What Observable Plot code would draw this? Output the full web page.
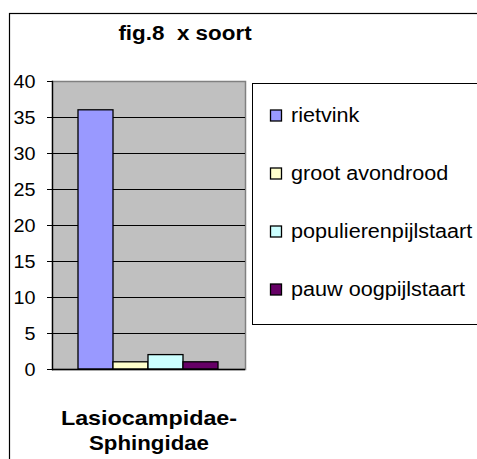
<!DOCTYPE html>
<html><head><meta charset="utf-8">
<script src="https://cdn.jsdelivr.net/npm/d3@7"></script>
<script src="https://cdn.jsdelivr.net/npm/@observablehq/plot@0.6"></script>
<style>body{margin:0;background:#fff} svg{display:block}</style>
</head><body><div id="chart"></div>
<script>
const title = "fig.8  x soort";
const category = "Lasiocampidae-\nSphingidae";
const series = ["rietvink", "groot avondrood", "populierenpijlstaart", "pauw oogpijlstaart"];
const values = [36, 1, 2, 1];
const colors = ["#9999FF", "#FFFFCC", "#CCFFFF", "#660066"];
const yTicks = [0, 5, 10, 15, 20, 25, 30, 35, 40];

const data = series.map((s, i) => ({series: s, value: values[i]}));
const FONT = "'Liberation Sans', Arial, Helvetica, sans-serif";

const svgEl = Plot.plot({
  width: 477, height: 459,
  marginLeft: 52, marginRight: 232, marginTop: 81, marginBottom: 90,
  style: {fontFamily: FONT, fontSize: "19px", color: "#000", background: "#fff"},
  x: {domain: series, range: [78, 218], padding: 0, axis: null},
  y: {domain: [0, 40], ticks: yTicks, label: null},
  color: {domain: series, range: colors},
  marks: [
    Plot.frame({fill: "#C0C0C0", stroke: "#808080", strokeWidth: 1.5}),
    Plot.ruleY(yTicks.filter(t => t > 0 && t < 40), {stroke: "#000", strokeWidth: 1}),
    Plot.barY(data, {x: "series", y: "value", fill: "series", stroke: "#000", strokeWidth: 1.3, inset: 0}),
    Plot.ruleY([0], {stroke: "#000", strokeWidth: 1.3}),
    Plot.frame({anchor: "left", stroke: "#000", strokeWidth: 1.3}),
    Plot.axisY({ticks: yTicks, tickSize: 5, tickPadding: 12, fontSize: 19, stroke: "#000", strokeOpacity: 1, label: null}),
    Plot.text([category], {frameAnchor: "bottom", lineAnchor: "top", dy: 38, fontWeight: "bold", fontSize: 21, lineHeight: 1.19, fill: "#000"})
  ]
});
document.getElementById("chart").appendChild(svgEl);

const svg = d3.select(svgEl);
// outer chart border
svg.append("rect").attr("x", 9.5).attr("y", 13.5).attr("width", 600).attr("height", 600)
  .attr("fill", "none").attr("stroke", "#000").attr("stroke-width", 1.2);
// title
svg.append("text").attr("x", 185).attr("y", 40).attr("text-anchor", "middle")
  .attr("font-family", FONT).attr("font-weight", "bold").attr("font-size", 20)
  .style("white-space", "pre").attr("class", "stretch-title").text(title);

// legend
const lg = svg.append("g").attr("text-anchor", "start");
lg.append("rect").attr("x", 252.5).attr("y", 83.5).attr("width", 400).attr("height", 241)
  .attr("fill", "#fff").attr("stroke", "#000").attr("stroke-width", 1);
series.forEach((s, i) => {
  const cy = 116 + i * 58;
  lg.append("rect").attr("x", 270.5).attr("y", cy - 6).attr("width", 11).attr("height", 11)
    .attr("fill", colors[i]).attr("stroke", "#000").attr("stroke-width", 1.3);
  lg.append("text").attr("x", 291).attr("y", cy + 6).attr("font-family", FONT)
    .attr("text-anchor", "start")
    .attr("font-size", 20).attr("class", "stretch-legend").attr("fill", "#000").text(s);
});

// slight horizontal stretch like the original rendering
function stretch(el, k) {
  const w = el.getComputedTextLength();
  if (w > 0) { el.setAttribute("textLength", (w * k).toFixed(1)); el.setAttribute("lengthAdjust", "spacingAndGlyphs"); }
}
svgEl.querySelectorAll("text").forEach(t => {
  const tspans = t.querySelectorAll("tspan");
  if (t.classList.contains("stretch-title")) { stretch(t, 1.12); return; }
  if (t.classList.contains("stretch-legend")) { stretch(t, 1.08); return; }
  if (tspans.length) tspans.forEach((ts, j) => stretch(ts, j === 0 ? 1.11 : 1.06));
  else stretch(t, 1.04);
});
</script>
</body></html>
